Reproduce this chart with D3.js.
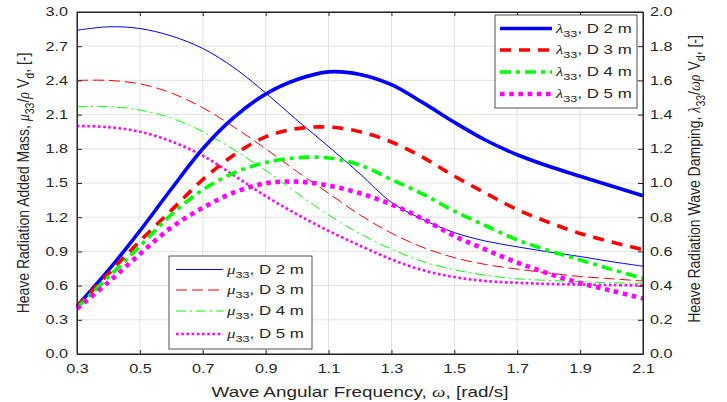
<!DOCTYPE html>
<meta charset="utf-8">
<style>
  body { margin: 0; background: #fff; }
  text { font-family: "Liberation Sans", Arial, Helvetica, sans-serif; fill: #262626; }
  .grid line { stroke: #e2e2e2; stroke-width: 1; }
  .axis path, .axis line { stroke: #262626; }
  .greek { font-family: "Liberation Serif", "DejaVu Serif", serif; font-style: italic; }
</style>
<body>
<script src="https://d3js.org/d3.v7.min.js"></script>
<script>
// wave angular frequency, rad/s
var omega = [0.3, 0.4, 0.5, 0.6, 0.7, 0.8, 0.9, 1.0, 1.1, 1.2, 1.3, 1.4, 1.5, 1.6, 1.7, 1.8, 1.9, 2.0, 2.1];

// added mass mu33 / rho Vd (left axis)
var muD2 = [2.84, 2.87, 2.855, 2.79, 2.68, 2.51, 2.29, 2.05, 1.82, 1.58, 1.33, 1.18, 1.065, 0.99, 0.94, 0.895, 0.855, 0.81, 0.77];
var muD3 = [2.40, 2.40, 2.37, 2.29, 2.16, 1.99, 1.80, 1.60, 1.41, 1.22, 1.06, 0.935, 0.845, 0.785, 0.745, 0.71, 0.68, 0.66, 0.64];
var muD4 = [2.17, 2.17, 2.14, 2.07, 1.95, 1.79, 1.61, 1.41, 1.22, 1.055, 0.92, 0.81, 0.74, 0.69, 0.66, 0.645, 0.635, 0.625, 0.62];
var muD5 = [2.00, 1.99, 1.95, 1.865, 1.74, 1.565, 1.385, 1.225, 1.08, 0.95, 0.83, 0.735, 0.675, 0.64, 0.625, 0.615, 0.61, 0.605, 0.60];

// wave damping lambda33 / omega rho Vd (right axis)
var lamD2 = [0.28, 0.49, 0.72, 0.965, 1.20, 1.385, 1.52, 1.605, 1.65, 1.635, 1.575, 1.47, 1.355, 1.25, 1.165, 1.098, 1.04, 0.982, 0.925];
var lamD3 = [0.277, 0.47, 0.66, 0.84, 1.02, 1.165, 1.27, 1.318, 1.327, 1.30, 1.24, 1.15, 1.04, 0.94, 0.845, 0.77, 0.705, 0.655, 0.61];
var lamD4 = [0.27, 0.45, 0.63, 0.815, 0.96, 1.06, 1.12, 1.148, 1.146, 1.105, 1.02, 0.935, 0.835, 0.75, 0.667, 0.605, 0.55, 0.495, 0.443];
var lamD5 = [0.265, 0.42, 0.585, 0.74, 0.855, 0.945, 0.998, 1.008, 0.985, 0.94, 0.875, 0.79, 0.69, 0.61, 0.535, 0.47, 0.415, 0.37, 0.325];

var diameters = ["D 2 m", "D 3 m", "D 4 m", "D 5 m"];
var xTicks = [0.3, 0.5, 0.7, 0.9, 1.1, 1.3, 1.5, 1.7, 1.9, 2.1];
var yLeftTicks = [0, 0.3, 0.6, 0.9, 1.2, 1.5, 1.8, 2.1, 2.4, 2.7, 3.0];
var yRightTicks = [0, 0.2, 0.4, 0.6, 0.8, 1.0, 1.2, 1.4, 1.6, 1.8, 2.0];

var W = 727, H = 402;
var L = 77, R = 643, T = 12, B = 354;
var SX = 1.35; // the picture is stretched sideways

var colors = ["#0000ff", "#ff0000", "#00ff00", "#ff00ff"];
var thinStyle = [
  {w: 1, dash: null},
  {w: 1, dash: "11,5"},
  {w: 1, dash: "10,4,2,4"},
  {w: 2.6, dash: "2.6,2.6"}
];
var thickStyle = [
  {w: 3.6, dash: null},
  {w: 3.6, dash: "11,8"},
  {w: 3.6, dash: "11,5,4,5"},
  {w: 4.6, dash: "4.6,4.6"}
];

var svg = d3.select("body").append("svg").attr("width", W).attr("height", H);

var x = d3.scaleLinear().domain([0.3, 2.1]).range([L, R]);
var yL = d3.scaleLinear().domain([0, 3]).range([B, T]);
var yR = d3.scaleLinear().domain([0, 2]).range([B, T]);

// grid
var grid = svg.append("g").attr("class", "grid");
grid.selectAll(".gx").data(xTicks).enter().append("line")
  .attr("x1", d => x(d)).attr("x2", d => x(d)).attr("y1", T).attr("y2", B);
grid.selectAll(".gy").data(yLeftTicks).enter().append("line")
  .attr("x1", L).attr("x2", R).attr("y1", d => yL(d)).attr("y2", d => yL(d));

// curves
var line = function(ys, yScale) {
  return d3.line().curve(d3.curveCatmullRom.alpha(0.5))
    .x((d, i) => x(omega[i])).y(d => yScale(d))(ys);
};
var plot = svg.append("g");
[muD2, muD3, muD4, muD5].forEach(function(s, i) {
  plot.append("path").attr("d", line(s, yL)).attr("fill", "none")
    .attr("stroke", colors[i]).attr("stroke-width", thinStyle[i].w)
    .attr("stroke-dasharray", thinStyle[i].dash);
});
[lamD2, lamD3, lamD4, lamD5].forEach(function(s, i) {
  plot.append("path").attr("d", line(s, yR)).attr("fill", "none")
    .attr("stroke", colors[i]).attr("stroke-width", thickStyle[i].w)
    .attr("stroke-dasharray", thickStyle[i].dash);
});

// axes
var fmt = d3.format(".1f");
svg.append("g").attr("class", "axis").attr("transform", "translate(0," + B + ")")
  .call(d3.axisBottom(x).tickValues(xTicks).tickFormat(fmt).tickSize(-4).tickSizeOuter(0).tickPadding(10));
svg.append("g").attr("class", "axis").attr("transform", "translate(0," + T + ")")
  .call(d3.axisTop(x).tickValues(xTicks).tickFormat("").tickSize(-4).tickSizeOuter(0));
svg.append("g").attr("class", "axis").attr("transform", "translate(" + L + ",0)")
  .call(d3.axisLeft(yL).tickValues(yLeftTicks).tickFormat(fmt).tickSize(-5).tickSizeOuter(0).tickPadding(6.7));
svg.append("g").attr("class", "axis").attr("transform", "translate(" + R + ",0)")
  .call(d3.axisRight(yR).tickValues(yRightTicks).tickFormat(fmt).tickSize(-5).tickSizeOuter(0).tickPadding(5.2));
svg.selectAll(".axis text").attr("font-size", 12).attr("font-family", null)
  .attr("transform", "scale(" + SX + ",1)").style("fill", "#262626");

// rich text with italic greek and subscripts
function rich(g, parts, fs) {
  var t = g.append("text").attr("font-size", fs);
  var shift = 0;
  parts.forEach(function(p) {
    var ts = t.append("tspan").text(p.t);
    var want = p.sub ? fs * 0.32 : 0;
    ts.attr("dy", want - shift);
    shift = want;
    if (p.sub) ts.attr("font-size", fs * 0.75);
    if (p.g) ts.attr("class", "greek");
  });
  return t;
}

// axis titles
var xt = svg.append("g").attr("transform", "translate(" + ((L + R) / 2) + ",397) scale(" + SX + ",1)");
rich(xt, [{t: "Wave Angular Frequency, "}, {t: "ω", g: 1}, {t: ", [rad/s]"}], 14).attr("text-anchor", "middle");

var ylt = svg.append("g").attr("transform", "translate(29," + ((T + B) / 2) + ") rotate(-90) scale(1,1.2)");
rich(ylt, [{t: "Heave Radiation Added Mass, "}, {t: "μ", g: 1}, {t: "33", sub: 1}, {t: "/"}, {t: "ρ", g: 1},
  {t: " V"}, {t: "d", sub: 1}, {t: ", [-]"}], 14).attr("text-anchor", "middle");

var yrt = svg.append("g").attr("transform", "translate(700," + ((T + B) / 2 - 4) + ") rotate(-90) scale(1,1.2)");
rich(yrt, [{t: "Heave Radiation Wave Damping, "}, {t: "λ", g: 1}, {t: "33", sub: 1}, {t: "/"}, {t: "ωρ", g: 1},
  {t: " V"}, {t: "d", sub: 1}, {t: ", [-]"}], 14).attr("text-anchor", "middle");

// legends
function legend(box, symbol, styles, lineX0, lineX1, rowY) {
  var g = svg.append("g");
  g.append("rect").attr("x", box[0]).attr("y", box[1]).attr("width", box[2]).attr("height", box[3])
    .attr("fill", "#fff").attr("stroke", "#262626").attr("stroke-width", 0.8);
  diameters.forEach(function(d, i) {
    var y = rowY[i];
    g.append("line").attr("x1", lineX0).attr("x2", lineX1).attr("y1", y).attr("y2", y)
      .attr("stroke", colors[i]).attr("stroke-width", styles[i].w).attr("stroke-dasharray", styles[i].dash);
    var tg = g.append("g").attr("transform", "translate(" + (lineX1 + 4) + "," + (y + 4) + ") scale(" + SX + ",1)");
    rich(tg, [{t: symbol, g: 1}, {t: "33", sub: 1}, {t: ", " + d}], 12.5);
  });
}
legend([495, 15, 142, 93], "λ", thickStyle, 500, 552, [28.5, 50, 72, 94]);
legend([169, 256, 143, 93], "μ", thinStyle, 176, 223, [269.5, 290, 311, 334]);

// frame on top
svg.append("rect").attr("x", L).attr("y", T).attr("width", R - L).attr("height", B - T)
  .attr("fill", "none").attr("stroke", "#262626").attr("stroke-width", 1);
</script>
</body>
